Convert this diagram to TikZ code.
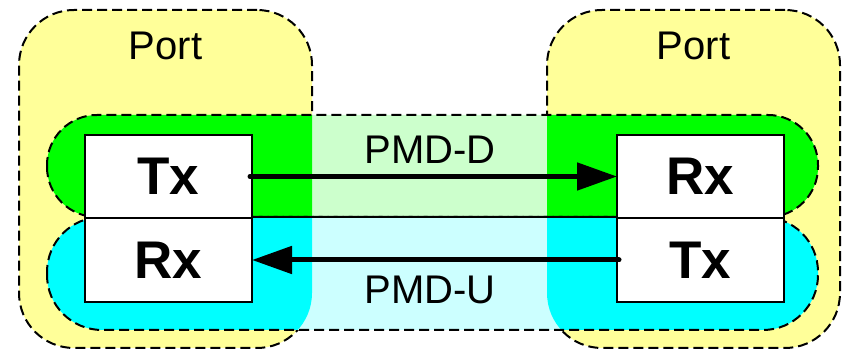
\documentclass[tikz,border=0pt]{standalone}
\usepackage{fontspec}
\setmainfont{Liberation Sans}
\usetikzlibrary{arrows.meta, positioning}
\definecolor{portyellow}{HTML}{FFFF99}
\definecolor{downgreen}{HTML}{00FF00}
\definecolor{downpale}{HTML}{CCFFCC}
\definecolor{upcyan}{HTML}{00FFFF}
\definecolor{uppale}{HTML}{CCFFFF}

\begin{document}
\begin{tikzpicture}[
  x=1pt, y=1pt,
  port/.style={rectangle, draw=black, fill=portyellow, line width=2pt, dash pattern=on 10pt off 5pt, rounded corners=55pt, minimum width=293pt, minimum height=338pt, outer sep=0pt},
  band/.style={rectangle, draw=none, minimum width=771pt, outer sep=0pt},
  edge/.style={draw=black, line width=2pt, dash pattern=on 10pt off 5pt},
  unit/.style={rectangle, draw=black, line width=2pt, fill=white, minimum width=167pt, minimum height=83.5pt, outer sep=0pt, font=\fontsize{53}{60}\selectfont\bfseries},
  lbl/.style={font=\fontsize{40}{48}\selectfont},
  arrow/.style={-{Triangle[length=40pt, width=27pt]}, line width=5pt, line cap=round}
]
  \useasboundingbox (0,0) rectangle (846,350);

  % ports
  \node[port] (portL) at (165.5,171) {};
  \node[port] (portR) at (693.5,171) {};
  \node[lbl] (portLtxt) at (165.5,304) {Port};
  \node[lbl] (portRtxt) at (693.5,304) {Port};

  % bands between the ports
  \node[band, fill=downpale, rounded corners=50pt, minimum height=102pt] (bandD) at (432.5,184) {};
  \node[band, fill=uppale, rounded corners=55pt, minimum height=113pt] (bandU) at (432.5,76.5) {};
  \begin{scope}
    \clip[rounded corners=55pt] (portL.south west) rectangle (portL.north east)
      (portR.south west) rectangle (portR.north east);
    \fill[downgreen, rounded corners=50pt] (bandD.south west) rectangle (bandD.north east);
    \fill[upcyan, rounded corners=55pt] (bandU.south west) rectangle (bandU.north east);
  \end{scope}
  \draw[edge, rounded corners=50pt] (bandD.south west) rectangle (bandD.north east);
  \draw[edge, rounded corners=55pt] (bandU.south west) rectangle (bandU.north east);

  % transmitters and receivers
  \node[unit] (txL) at (168.5,173.5) {Tx};
  \node[unit, below=0pt of txL] (rxL) {Rx};
  \node[unit] (rxR) at (700.5,173.5) {Rx};
  \node[unit, below=0pt of rxR] (txR) {Tx};

  \draw[arrow] ([xshift=-2pt]txL.east) -- (rxR.west);
  \draw[arrow] ([xshift=2pt]txR.west) -- (rxL.east);

  \node[lbl] (pmdD) at (430,200) {PMD-D};
  \node[lbl] (pmdU) at (430,60) {PMD-U};
\end{tikzpicture}
\end{document}
